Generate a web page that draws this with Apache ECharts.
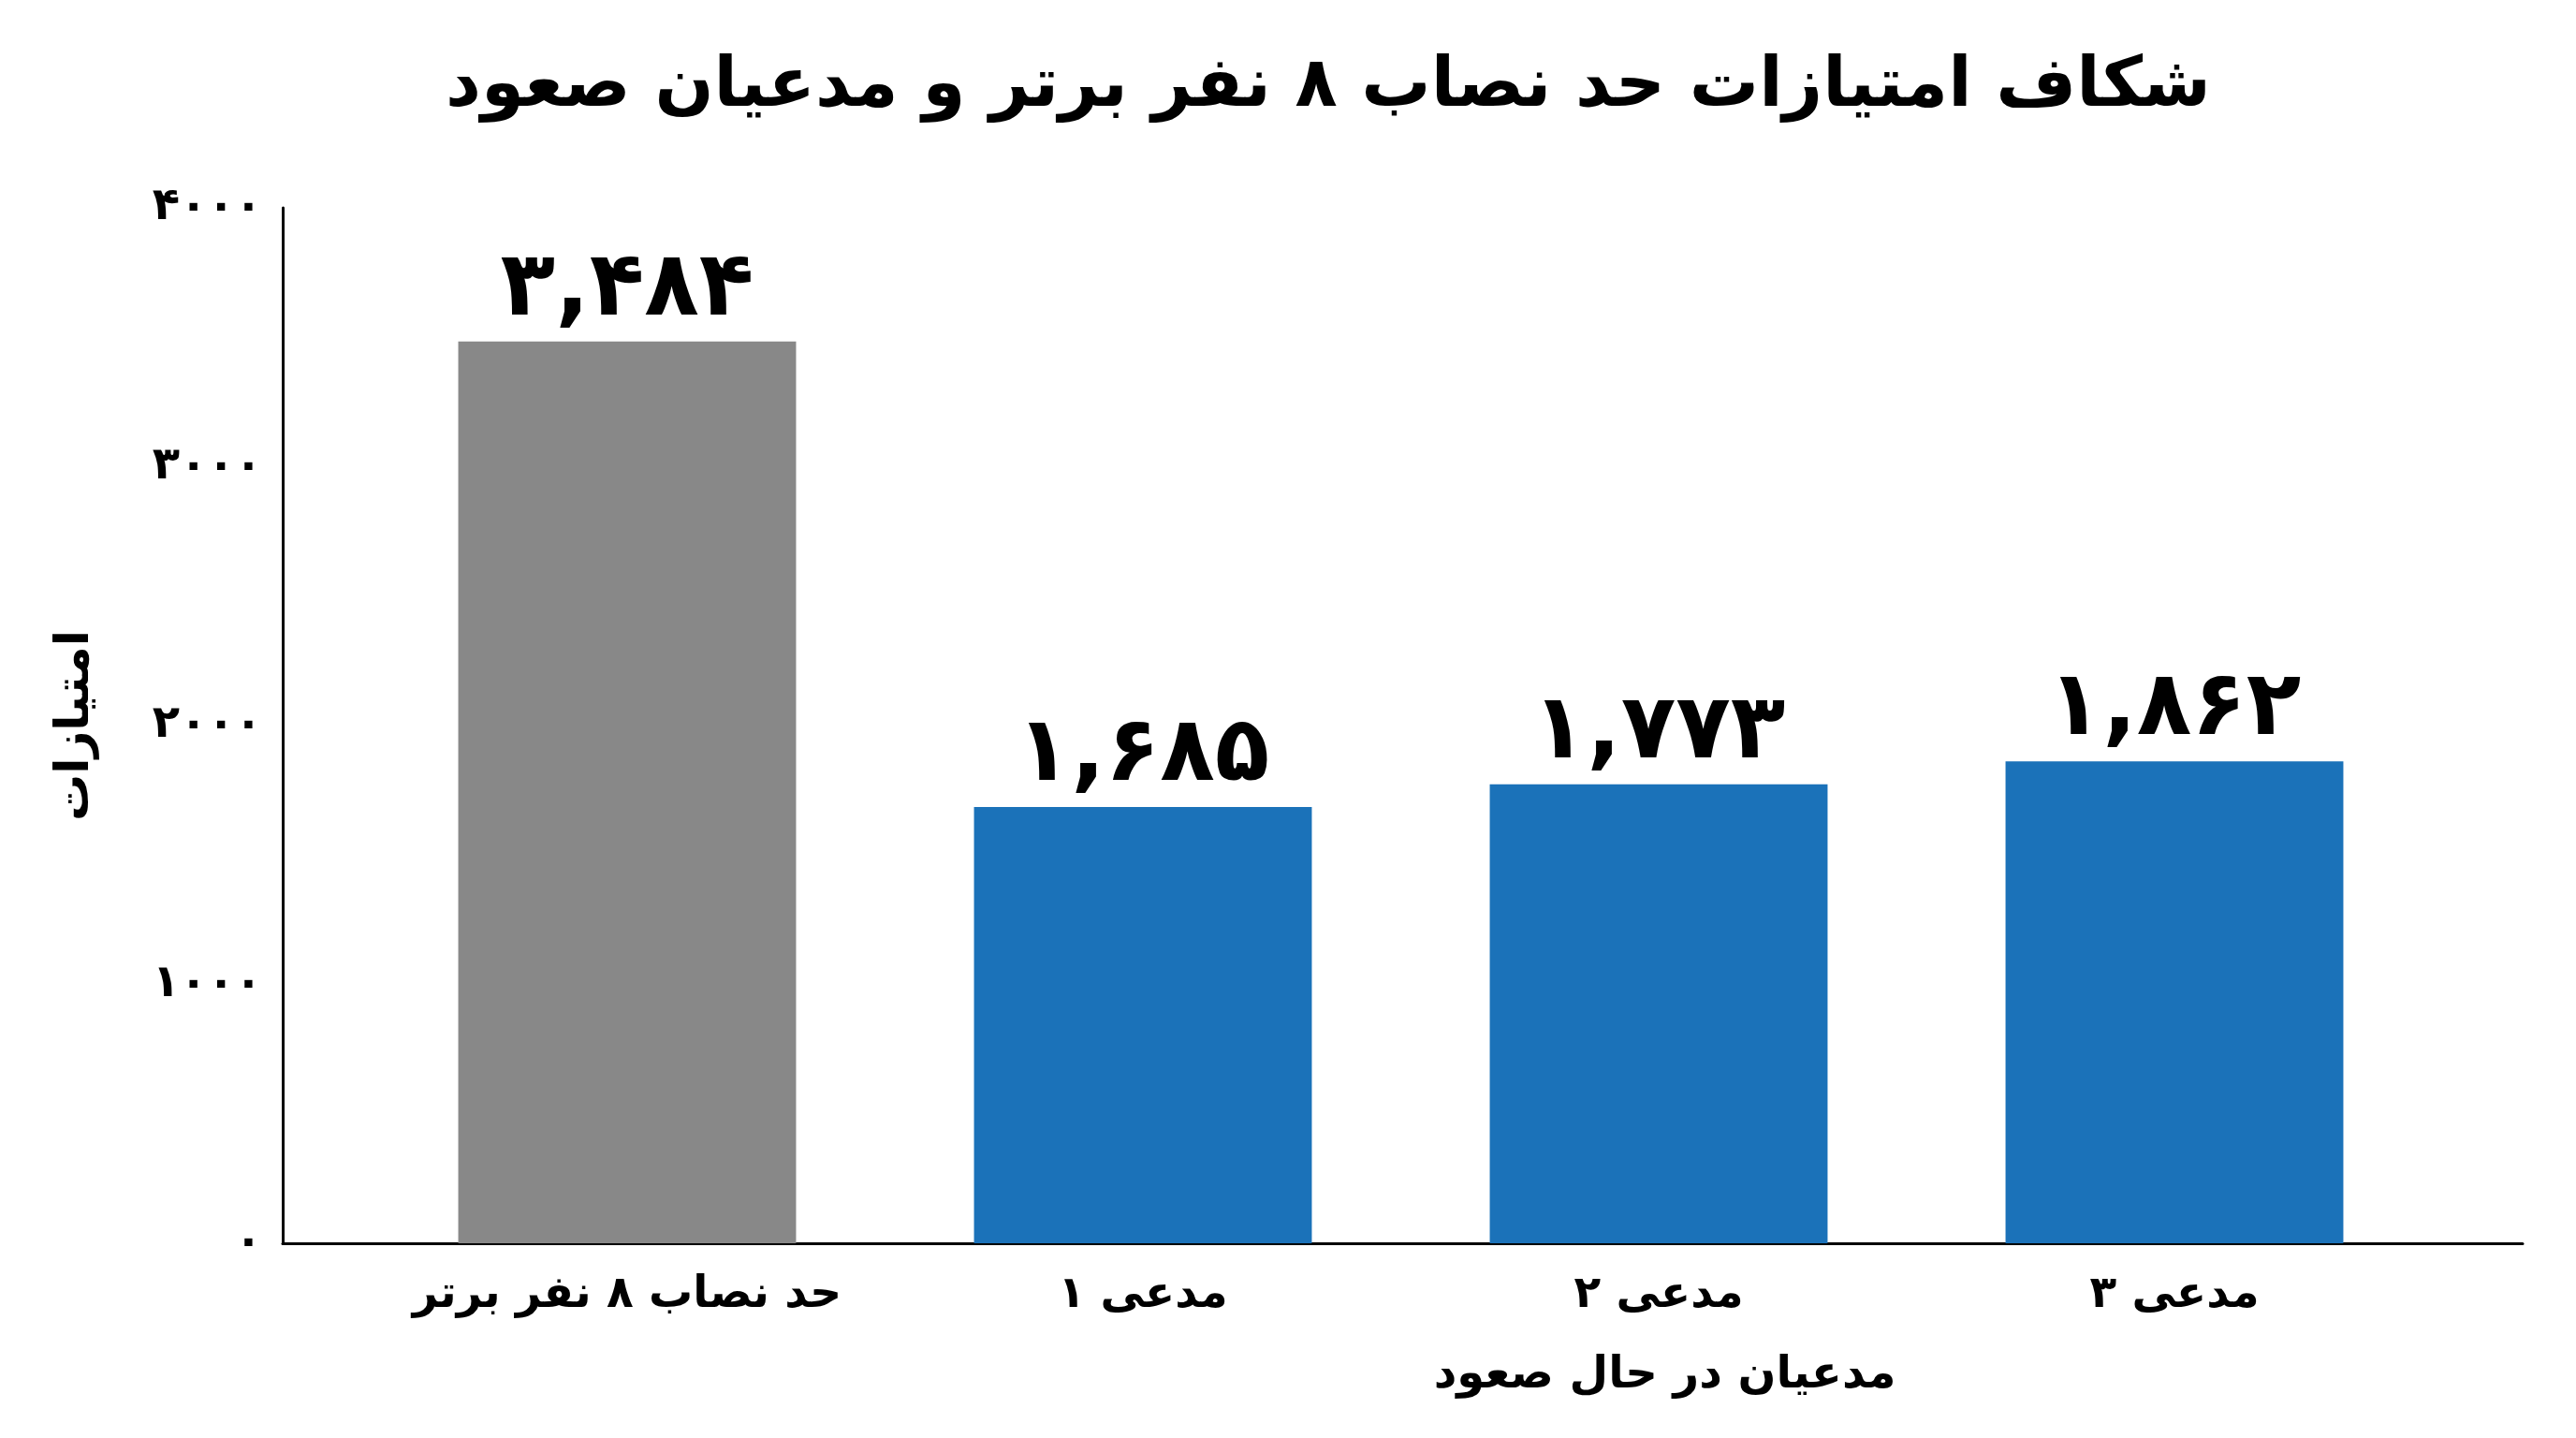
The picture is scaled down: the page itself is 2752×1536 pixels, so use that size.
<!DOCTYPE html>
<html>
<head>
<meta charset="utf-8">
<style>html,body{margin:0;padding:0;background:#fff}#c{width:2752px;height:1536px}</style>
<script src="https://cdn.jsdelivr.net/npm/echarts@6/dist/echarts.min.js"></script>
</head>
<body>
<div id="c"></div>
<script>
const titleText = 'شکاف امتیازات حد نصاب ۸ نفر برتر و مدعیان صعود';
const categories = ['حد نصاب ۸ نفر برتر', 'مدعی ۱', 'مدعی ۲', 'مدعی ۳'];
const values = [3484, 1685, 1773, 1862];
const barColors = ['#888888', '#1b72b9', '#1b72b9', '#1b72b9'];
const yAxisName = 'امتیازات';
const xAxisName = 'مدعیان در حال صعود';

const FONT = 'DejaVu Sans';
function fa(s) { return String(s).replace(/[0-9]/g, d => '۰۱۲۳۴۵۶۷۸۹'[+d]); }
function faNum(v) { return fa(v.toLocaleString('en-US')); }

const chart = echarts.init(document.getElementById('c'));
chart.setOption({
  backgroundColor: '#ffffff',
  animation: false,
  title: {
    text: titleText, left: 476, top: 57, padding: 0,
    textStyle: { fontFamily: FONT, fontSize: 74, fontWeight: 'bold', color: '#000' }
  },
  grid: [
    { left: 302, right: 57, top: 222, bottom: 208 },
    { left: 394.5, right: 153.5, top: 222, bottom: 208 }
  ],
  xAxis: [
    { gridIndex: 0, type: 'value', min: 0, max: 1, axisLine: { show: true, onZero: false, lineStyle: { color: '#000', width: 3 } },
      axisTick: { show: false }, axisLabel: { show: false }, splitLine: { show: false } },
    { gridIndex: 1, type: 'category', data: categories.map(fa),
      axisLine: { show: false }, axisTick: { show: false },
      axisLabel: { interval: 0, fontFamily: FONT, fontSize: 47, fontWeight: 'bold', color: '#000', margin: 32 },
      name: xAxisName, nameLocation: 'middle', nameGap: 118,
      nameTextStyle: { fontFamily: FONT, fontSize: 48, fontWeight: 'bold', color: '#000', padding: [0, 0, 0, 564] } }
  ],
  yAxis: [
    { gridIndex: 0, type: 'value', min: 0, max: 4000, interval: 1000,
      axisLine: { show: true, lineStyle: { color: '#000', width: 3 } }, axisTick: { show: false },
      splitLine: { show: false },
      axisLabel: { fontFamily: FONT, fontSize: 48, fontWeight: 'bold', color: '#000', margin: 22, formatter: v => fa(v) },
      name: yAxisName, nameLocation: 'middle', nameGap: 196, nameRotate: 90,
      nameTextStyle: { fontFamily: FONT, fontSize: 50, fontWeight: 'bold', color: '#000' } },
    { gridIndex: 1, type: 'value', min: 0, max: 4000, show: false }
  ],
  series: [{
    type: 'bar', xAxisIndex: 1, yAxisIndex: 1, barWidth: '65.5%',
    data: values.map((v, i) => ({ value: v, itemStyle: { color: barColors[i] } })),
    label: { show: true, position: 'top', distance: 6, fontFamily: FONT, fontSize: 96, fontWeight: 'bold', color: '#000',
      formatter: p => faNum(p.value) }
  }]
});
</script>
</body>
</html>
